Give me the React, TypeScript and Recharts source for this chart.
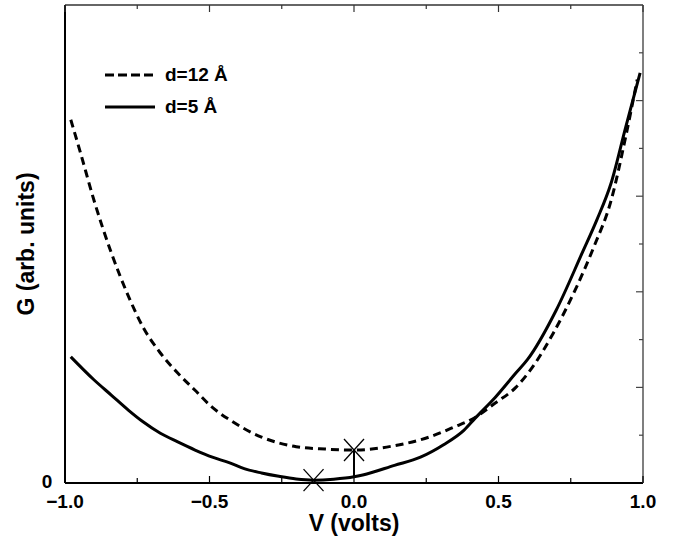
import React from 'react';
import { ComposedChart, Line, Scatter, XAxis, YAxis, Legend } from 'recharts';

const FONT = '"Liberation Sans", Arial, Helvetica, sans-serif';

// d = 12 Å (dashed curve)
const V_D12 = [-0.98, -0.946, -0.9, -0.84, -0.78, -0.73, -0.67, -0.61, -0.55, -0.49, -0.43, -0.32, -0.2, -0.1, 0, 0.14, 0.26, 0.35, 0.41, 0.49, 0.56, 0.61, 0.69, 0.77, 0.83, 0.89, 0.94, 0.98];
const G_D12 = [3.8, 3.45, 2.96, 2.41, 1.95, 1.63, 1.36, 1.15, 0.97, 0.79, 0.66, 0.48, 0.38, 0.355, 0.345, 0.39, 0.48, 0.59, 0.67, 0.84, 1.0, 1.18, 1.57, 2.05, 2.47, 2.96, 3.62, 4.22];

// d = 5 Å (solid curve)
const V_D5 = [-0.98, -0.9, -0.84, -0.78, -0.73, -0.67, -0.61, -0.55, -0.49, -0.43, -0.38, -0.32, -0.26, -0.2, -0.14, -0.07, 0, 0.03, 0.14, 0.23, 0.31, 0.38, 0.42, 0.49, 0.56, 0.6, 0.7, 0.79, 0.84, 0.89, 0.94, 0.99];
const G_D5 = [1.32, 1.08, 0.92, 0.76, 0.64, 0.52, 0.43, 0.345, 0.27, 0.21, 0.15, 0.105, 0.07, 0.042, 0.03, 0.04, 0.065, 0.084, 0.185, 0.27, 0.4, 0.55, 0.68, 0.9, 1.15, 1.29, 1.81, 2.41, 2.75, 3.14, 3.72, 4.29];

// crosses at the minima
const MIN_V = [-0.14, 0];
const MIN_G = [0.03, 0.345];

// vertical bar at V = 0
const BAR_V = [0, 0];
const BAR_G = [0.065, 0.345];

const X_TICKS = [-1, -0.75, -0.5, -0.25, 0, 0.25, 0.5, 0.75, 1];
const X_LABELS = ['\u22121.0', '', '\u22120.5', '', '0.0', '', '0.5', '', '1.0'];
const Y_TICKS = [0.5, 1, 1.5, 2, 2.5, 3, 3.5, 4, 4.5];
const Y_MAJOR = [1, 2, 3, 4];

const LEGEND = [
  { label: 'd=12 \u00c5', dash: '9 4' },
  { label: 'd=5 \u00c5', dash: undefined },
];

const zip = (vs: number[], gs: number[]) => vs.map((v, i) => ({ v, g: gs[i] }));

const d12 = zip(V_D12, G_D12);
const d5 = zip(V_D5, G_D5);
const minima = zip(MIN_V, MIN_G);
const bar = zip(BAR_V, BAR_G);

const BottomTick = (props: any) => {
  const { x, y, payload } = props;
  const label = X_LABELS[X_TICKS.indexOf(payload.value)];
  return (
    <g>
      <line x1={x} y1={y} x2={x} y2={y - (label ? 7 : 5)} stroke="#000" strokeWidth={1.2} />
      {label ? (
        <text x={x} y={y + 25} textAnchor="middle" fontFamily={FONT} fontWeight="bold" fontSize={19} fill="#000">
          {label}
        </text>
      ) : null}
    </g>
  );
};

const TopTick = (props: any) => {
  const { x, y, payload } = props;
  const major = payload.value * 2 === Math.round(payload.value * 2);
  return <line x1={x} y1={y} x2={x} y2={y + (major ? 7 : 4)} stroke="#333" strokeWidth={1.2} />;
};

const RightTick = (props: any) => {
  const { x, y, payload } = props;
  const major = Y_MAJOR.includes(payload.value);
  return <line x1={x} y1={y} x2={x - (major ? 7 : 4)} y2={y} stroke="#444" strokeWidth={1.2} />;
};

const LeftTick = (props: any) => {
  const { x, y } = props;
  return (
    <text x={x - 18} y={y + 5} textAnchor="middle" fontFamily={FONT} fontWeight="bold" fontSize={19} fill="#000">
      0
    </text>
  );
};

const Cross = (props: any) => {
  const { cx, cy } = props;
  return (
    <g stroke="#000" strokeWidth={1.3}>
      <line x1={cx - 10} y1={cy - 11} x2={cx + 10} y2={cy + 11} />
      <line x1={cx - 10} y1={cy + 11} x2={cx + 10} y2={cy - 11} />
    </g>
  );
};

const xLabel = (props: any) => {
  const vb = props.viewBox;
  return (
    <text x={vb.x + vb.width / 2} y={vb.y + 48} textAnchor="middle" fontFamily={FONT} fontWeight="bold" fontSize={23} fill="#000">
      V (volts)
    </text>
  );
};

const yLabel = (props: any) => {
  const vb = props.viewBox;
  const cx = 34;
  const cy = vb.y + vb.height / 2;
  return (
    <text x={cx} y={cy} transform={`rotate(-90 ${cx} ${cy})`} textAnchor="middle" fontFamily={FONT} fontWeight="bold" fontSize={23} fill="#000">
      G (arb. units)
    </text>
  );
};

const LegendBox = () => (
  <div style={{ fontFamily: FONT, fontWeight: 'bold', fontSize: 19, color: '#000' }}>
    {LEGEND.map((item) => (
      <div key={item.label} style={{ display: 'flex', alignItems: 'center', height: 32 }}>
        <svg width={50} height={10}>
          <line x1={0} y1={5} x2={50} y2={5} stroke="#000" strokeWidth={3} strokeDasharray={item.dash} />
        </svg>
        <span style={{ marginLeft: 10 }}>{item.label}</span>
      </div>
    ))}
  </div>
);

export default function App() {
  return (
    <div style={{ position: 'absolute', left: 0, top: 0, background: '#fff' }}>
      <ComposedChart width={678} height={541} margin={{ top: 0, right: 0, bottom: 0, left: 0 }}>
        <XAxis
          xAxisId="b"
          dataKey="v"
          type="number"
          domain={[-1, 1]}
          ticks={X_TICKS}
          interval={0}
          height={58}
          tickSize={0}
          tickMargin={0}
          tickLine={false}
          tick={<BottomTick />}
          axisLine={{ stroke: '#000', strokeWidth: 2 }}
          label={xLabel}
        />
        <XAxis
          xAxisId="t"
          orientation="top"
          dataKey="v"
          type="number"
          domain={[-1, 1]}
          ticks={X_TICKS}
          interval={0}
          height={5}
          tickSize={0}
          tickMargin={0}
          tickLine={false}
          tick={<TopTick />}
          axisLine={{ stroke: '#333', strokeWidth: 1.5 }}
        />
        <YAxis
          yAxisId="l"
          dataKey="g"
          type="number"
          domain={[0, 5]}
          ticks={[0]}
          interval={0}
          width={65}
          tickSize={0}
          tickMargin={0}
          tickLine={false}
          tick={<LeftTick />}
          axisLine={{ stroke: '#000', strokeWidth: 2 }}
          label={yLabel}
        />
        <YAxis
          yAxisId="r"
          orientation="right"
          dataKey="g"
          type="number"
          domain={[0, 5]}
          ticks={Y_TICKS}
          interval={0}
          width={35}
          tickSize={0}
          tickMargin={0}
          tickLine={false}
          tick={<RightTick />}
          axisLine={{ stroke: '#555', strokeWidth: 1.5 }}
        />
        <Legend
          layout="horizontal"
          verticalAlign="middle"
          align="center"
          content={<LegendBox />}
          wrapperStyle={{ position: 'absolute', left: 105, top: 59, width: 'auto' }}
        />
        <Line
          xAxisId="b"
          yAxisId="l"
          data={d12}
          dataKey="g"
          type="monotone"
          stroke="#000"
          strokeWidth={3}
          strokeDasharray="8 5"
          dot={false}
          isAnimationActive={false}
        />
        <Line
          xAxisId="b"
          yAxisId="l"
          data={d5}
          dataKey="g"
          type="monotone"
          stroke="#000"
          strokeWidth={3}
          dot={false}
          isAnimationActive={false}
        />
        <Line
          xAxisId="b"
          yAxisId="l"
          data={bar}
          dataKey="g"
          type="linear"
          stroke="#000"
          strokeWidth={2}
          dot={false}
          isAnimationActive={false}
        />
        <Scatter xAxisId="t" yAxisId="r" data={minima} dataKey="g" shape={<Cross />} isAnimationActive={false} />
      </ComposedChart>
    </div>
  );
}
